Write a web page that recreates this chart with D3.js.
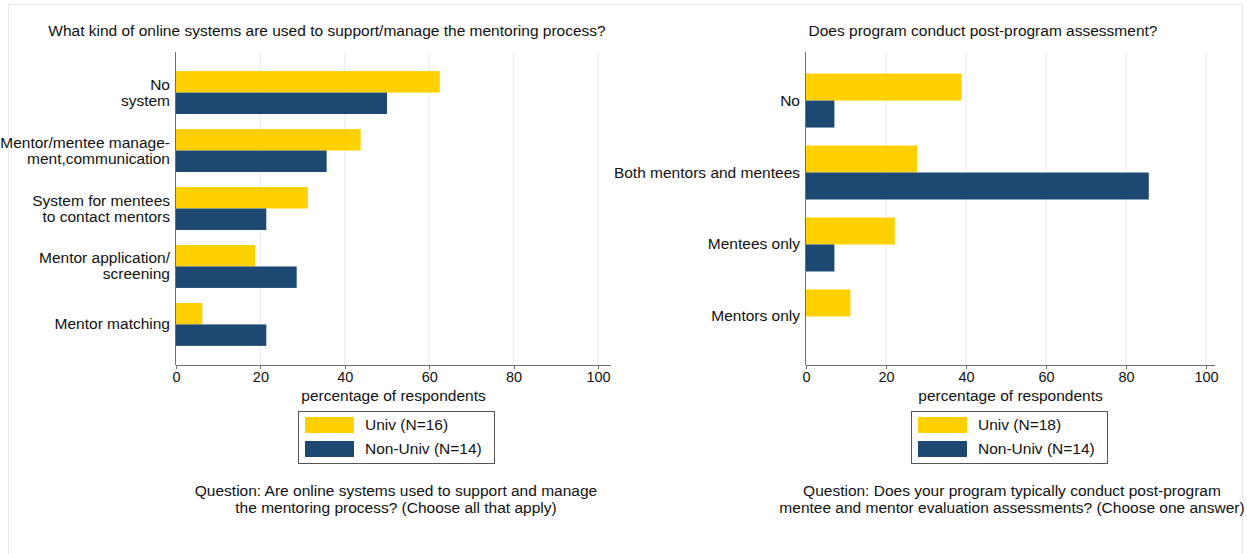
<!DOCTYPE html>
<html lang="en">
<head>
    <meta charset="UTF-8">
    <title>Mentoring programs: online systems and assessment</title>
    <script src="https://d3js.org/d3.v7.min.js"></script>
    <style>
        body { margin: 0; background: #fff; }
        svg { display: block; font-family: "Liberation Sans", Arial, Helvetica, sans-serif; }
        .grid line { stroke: #e3ecef; stroke-width: 1; }
        .axis path, .axis line { stroke: #6e6e6e; shape-rendering: crispEdges; }
    </style>
</head>
<body>
<svg width="1247" height="554"></svg>
<script>
    // --- data ---
    const systemsCats = [["No", "system"], ["Mentor/mentee manage-", "ment,communication"],
        ["System for mentees", "to contact mentors"], ["Mentor application/", "screening"], ["Mentor matching"]];
    const systemsUniv = [62.5, 43.75, 31.25, 18.75, 6.25];
    const systemsNonUniv = [50, 35.7, 21.4, 28.6, 21.4];

    const assessCats = [["No"], ["Both mentors and mentees"], ["Mentees only"], ["Mentors only"]];
    const assessUniv = [38.9, 27.8, 22.2, 11.1];
    const assessNonUniv = [7.1, 85.7, 7.1, 0];

    const xTicks = [0, 20, 40, 60, 80, 100];
    const seriesNames = ["Univ", "Non-Univ"];
    const colors = ["#ffd000", "#1d4871"];

    const FS = 15.5; // text size

    const svg = d3.select("svg");

    // light frame around the whole graphic
    svg.append("rect").attr("x", 8.5).attr("y", 4.5).attr("width", 1234).attr("height", 560)
        .attr("fill", "none").attr("stroke", "#e9e9e9");

    function drawPanel(p) {
        const g = svg.append("g");
        const x = d3.scaleLinear().domain([0, 100]).range([p.x0, p.x1]);
        const y = d3.scaleBand().domain(d3.range(p.cats.length))
            .range([p.top, p.bottom]).paddingInner(p.padIn).paddingOuter(p.padOut);
        const sub = d3.scaleBand().domain([0, 1]).range([0, y.bandwidth()]);

        // title
        g.append("text").attr("x", p.titleX).attr("y", 36).attr("text-anchor", "middle")
            .attr("font-size", FS).attr("fill", "#111").text(p.title);

        // grid
        g.append("g").attr("class", "grid").selectAll("line")
            .data(xTicks.slice(1)).enter().append("line")
            .attr("x1", d => x(d)).attr("x2", d => x(d))
            .attr("y1", p.top).attr("y2", p.bottom);

        // bars
        const series = [p.univ, p.nonUniv];
        series.forEach((vals, s) => {
            g.selectAll(".bar-" + s).data(vals).enter().append("rect")
                .attr("class", "bar-" + s)
                .attr("x", x(0))
                .attr("y", (d, i) => y(i) + sub(s))
                .attr("width", d => x(d) - x(0))
                .attr("height", sub.bandwidth())
                .attr("fill", colors[s]);
        });

        // x axis
        g.append("g").attr("class", "axis")
            .attr("transform", `translate(0,${p.bottom})`)
            .call(d3.axisBottom(x).tickValues(xTicks).tickSize(4).tickSizeOuter(0).tickPadding(3))
            .call(a => a.select(".domain").attr("d", `M${p.x0},0H${p.axisEnd}`))
            .selectAll("text").attr("font-size", 14.5).attr("fill", "#111")
            .attr("font-family", "Liberation Sans, Arial, sans-serif");

        // y axis line
        g.append("line").attr("x1", p.x0 - 0.5).attr("x2", p.x0 - 0.5)
            .attr("y1", p.top).attr("y2", p.bottom)
            .attr("stroke", "#6e6e6e");

        // category labels
        p.cats.forEach((lines, i) => {
            const cy = y(i) + y.bandwidth() / 2;
            const t = g.append("text").attr("text-anchor", "end")
                .attr("font-size", FS).attr("fill", "#111");
            lines.forEach((ln, j) => {
                t.append("tspan").attr("x", p.x0 - 6)
                    .attr("y", cy + 5 + (j - (lines.length - 1) / 2) * 16)
                    .text(ln);
            });
        });

        // axis title
        const mid = (p.x0 + p.axisEnd) / 2;
        g.append("text").attr("x", mid).attr("y", 401).attr("text-anchor", "middle")
            .attr("font-size", FS).attr("fill", "#111").text("percentage of respondents");

        // legend
        const lg = g.append("g").attr("transform", `translate(${p.legendX},411)`);
        lg.append("rect").attr("x", 0.5).attr("y", 0.5).attr("width", 196).attr("height", 52)
            .attr("fill", "#fff").attr("stroke", "#555");
        p.legend.forEach((lab, i) => {
            lg.append("rect").attr("x", 7).attr("y", 6 + i * 24).attr("width", 49).attr("height", 16)
                .attr("fill", colors[i]);
            lg.append("text").attr("x", 67).attr("y", 19 + i * 24)
                .attr("font-size", FS).attr("fill", "#111").text(lab);
        });

        // note
        p.note.forEach((ln, j) => {
            g.append("text").attr("x", p.noteX).attr("y", 496 + j * 17)
                .attr("text-anchor", "middle").attr("font-size", FS).attr("fill", "#111").text(ln);
        });
    }

    drawPanel({
        title: "What kind of online systems are used to support/manage the mentoring process?",
        titleX: 327,
        cats: systemsCats, univ: systemsUniv, nonUniv: systemsNonUniv,
        x0: 176, x1: 598, axisEnd: 611, top: 52, bottom: 365, padIn: 0.26, padOut: 0.33,
        legendX: 298,
        legend: [`${seriesNames[0]} (N=16)`, `${seriesNames[1]} (N=14)`],
        noteX: 396,
        note: ["Question: Are online systems used to support and manage",
            "the mentoring process? (Choose all that apply)"]
    });

    drawPanel({
        title: "Does program conduct post-program assessment?",
        titleX: 983,
        cats: assessCats, univ: assessUniv, nonUniv: assessNonUniv,
        x0: 806, x1: 1206, axisEnd: 1215, top: 52, bottom: 365, padIn: 0.25, padOut: 0.30,
        legendX: 911,
        legend: [`${seriesNames[0]} (N=18)`, `${seriesNames[1]} (N=14)`],
        noteX: 1012,
        note: ["Question: Does your program typically conduct post-program",
            "mentee and mentor evaluation assessments? (Choose one answer)"]
    });
</script>
</body>
</html>
